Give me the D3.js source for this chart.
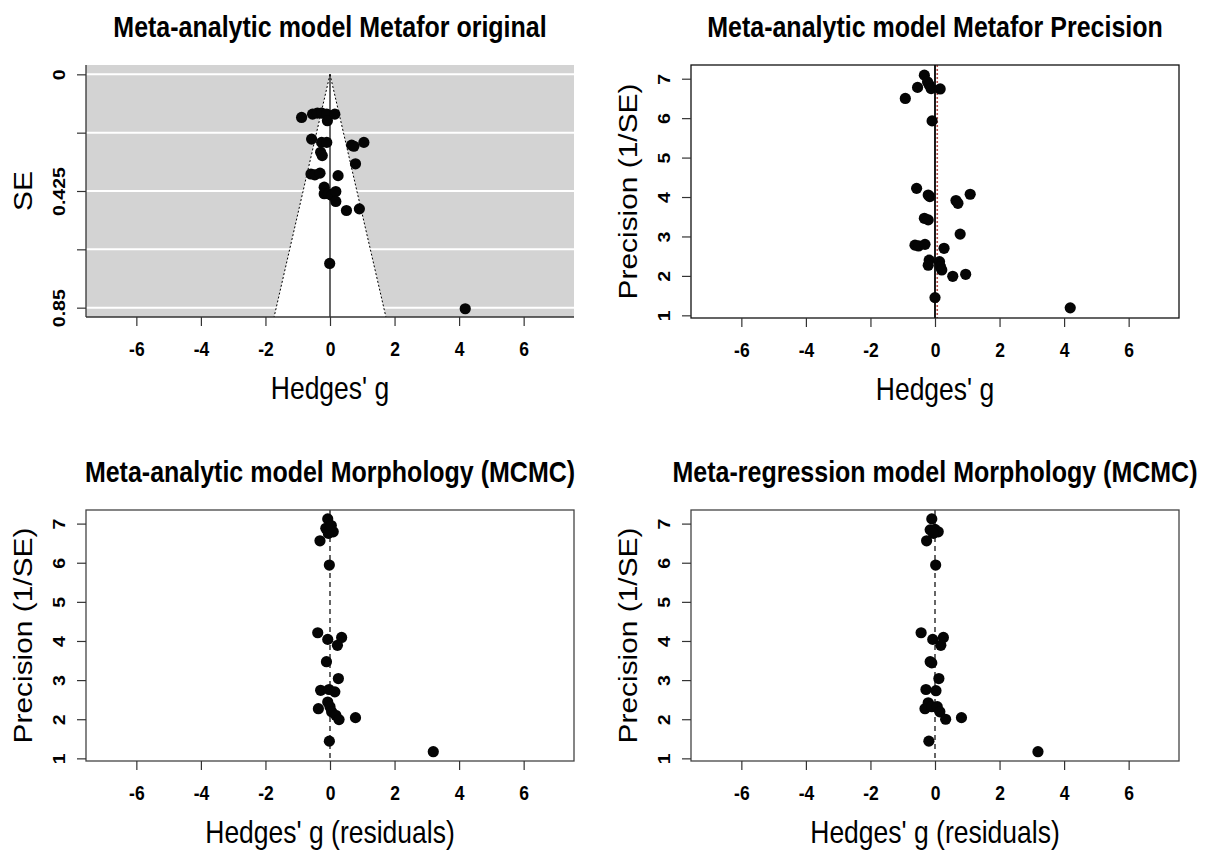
<!DOCTYPE html>
<html>
<head>
<meta charset="utf-8">
<script src="https://cdn.jsdelivr.net/npm/d3@7"></script>
<style>
body { margin: 0; background: #fff; }
svg { display: block; }
text { font-family: "Liberation Sans", Arial, Helvetica, sans-serif; fill: #000; }
</style>
</head>
<body>
<svg id="chart" width="1207" height="852"></svg>
<script>
// ---- values ----
var titles = ["Meta-analytic model Metafor original",
              "Meta-analytic model Metafor Precision",
              "Meta-analytic model Morphology (MCMC)",
              "Meta-regression model Morphology (MCMC)"];
var xLabels = ["Hedges' g", "Hedges' g", "Hedges' g (residuals)", "Hedges' g (residuals)"];
var yLabels = ["SE", "Precision (1/SE)", "Precision (1/SE)", "Precision (1/SE)"];

var xTicks = [-6, -4, -2, 0, 2, 4, 6];
var xLimits = [-7, 7];
var seTicks = [0, 0.2125, 0.425, 0.6375, 0.85];
var seTickLabels = ["0", "", "0.425", "", "0.85"];
var precTicks = [1, 2, 3, 4, 5, 6, 7];
var precLimits = [1.17, 7.11];

// panel 1: funnel (Hedges' g vs SE)
var funnelG  = [-0.88, -0.54, -0.39, -0.26, -0.10, -0.08, 0.15, -0.57, -0.26, -0.10, -0.29, -0.24, 0.67, 0.74, 1.05,
                0.79, -0.59, -0.47, -0.31, 0.25, -0.18, -0.18, -0.05, 0.05, 0.18, 0.18, 0.51, 0.91, -0.01, 4.19];
var funnelSE = [0.157, 0.145, 0.141, 0.141, 0.145, 0.169, 0.145, 0.236, 0.248, 0.248, 0.284, 0.296, 0.258, 0.262, 0.248,
                0.326, 0.363, 0.366, 0.360, 0.369, 0.411, 0.435, 0.435, 0.441, 0.427, 0.463, 0.496, 0.490, 0.689, 0.854];
var funnelEstimate = 0;

// panel 2: precision plot
var precG = [-0.33, -0.23, -0.18, -0.12, -0.54, 0.16, -0.92, -0.09, -0.57, -0.21, -0.16, 0.65, 0.71, 1.09, -0.33,
             -0.21, 0.78, -0.62, -0.51, -0.31, 0.28, -0.18, -0.21, 0.14, 0.17, 0.21, 0.55, 0.95, 0.00, 4.19];
var precP = [7.09, 6.92, 6.84, 6.75, 6.78, 6.74, 6.50, 5.93, 4.22, 4.05, 4.01, 3.91, 3.84, 4.07, 3.46,
             3.42, 3.06, 2.78, 2.76, 2.80, 2.70, 2.40, 2.27, 2.36, 2.23, 2.15, 1.99, 2.04, 1.45, 1.19];
var precZeroLine = 0;
var precEstimate = 0.07;

// panel 3: meta-analytic MCMC residuals
var mcmcG = [-0.07, -0.13, 0.00, 0.10, -0.05, 0.04, -0.31, -0.02, -0.38, -0.07, 0.36, 0.23, -0.11, 0.26, -0.29,
             -0.03, 0.15, -0.07, -0.36, 0.00, 0.05, 0.18, 0.28, 0.79, -0.02, 3.20];
var mcmcP = [7.12, 6.88, 6.84, 6.79, 6.75, 6.95, 6.56, 5.94, 4.21, 4.04, 4.09, 3.89, 3.47, 3.04, 2.74,
             2.76, 2.70, 2.44, 2.27, 2.32, 2.19, 2.10, 1.99, 2.04, 1.44, 1.17];

// panel 4: meta-regression MCMC residuals
var regG = [-0.10, -0.15, 0.00, 0.10, -0.05, -0.26, 0.02, -0.43, -0.07, 0.26, 0.18, -0.15, -0.10, 0.12, -0.28,
            0.03, -0.21, -0.31, -0.10, 0.07, 0.15, 0.33, 0.82, -0.19, 3.19];
var regP = [7.12, 6.84, 6.85, 6.79, 6.75, 6.56, 5.94, 4.21, 4.04, 4.09, 3.89, 3.47, 3.44, 3.04, 2.76,
            2.73, 2.42, 2.27, 2.32, 2.32, 2.19, 2.00, 2.04, 1.44, 1.17];
var residualLine = 0;

// ---- layout ----
var k = 1.15; // the picture is stretched a little in height, text too
var svg = d3.select("#chart");
svg.append("rect").attr("width", 1207).attr("height", 852).attr("fill", "#fff");

var boxes = [
    {left: 86,  right: 574,  top: 65,  bottom: 317},
    {left: 691, right: 1179, top: 65,  bottom: 318},
    {left: 86,  right: 574,  top: 510, bottom: 761},
    {left: 691, right: 1179, top: 510, bottom: 761}
];

// R style 4% range extension
function extend(lim) {
    var d = (lim[1] - lim[0]) * 0.04;
    return [lim[0] - d, lim[1] + d];
}

function hText(g, x, y, str, size, weight) {
    return g.append("text")
        .attr("transform", "translate(" + x + "," + y + ") scale(1," + k + ")")
        .attr("text-anchor", "middle")
        .attr("font-size", size)
        .attr("font-weight", weight)
        .text(str);
}

function vText(g, x, y, str, size, weight) {
    return g.append("text")
        .attr("transform", "translate(" + x + "," + y + ") scale(1," + k + ") rotate(-90)")
        .attr("text-anchor", "middle")
        .attr("font-size", size)
        .attr("font-weight", weight)
        .text(str);
}

// axes, titles and labels shared by all panels
function decorate(g, b, i, x, y, yTicks, yFormat) {
    var cx = (b.left + b.right) / 2;

    var xAxis = g.append("g")
        .attr("transform", "translate(0," + b.bottom + ")")
        .call(d3.axisBottom(x).tickValues(xTicks).tickSize(9).tickSizeOuter(0)
              .tickFormat(function(d) { return String(d); }));
    xAxis.attr("font-size", null).attr("font-family", null);
    xAxis.select(".domain").remove();
    xAxis.selectAll(".tick line").attr("stroke", "#333").attr("stroke-width", 1.2);
    xAxis.selectAll(".tick text")
        .attr("y", null).attr("dy", null)
        .attr("transform", "translate(0,39) scale(1," + k + ")")
        .attr("font-size", 17.5).attr("font-weight", "bold");

    var yAxis = g.append("g")
        .attr("transform", "translate(" + b.left + ",0)")
        .call(d3.axisLeft(y).tickValues(yTicks).tickSize(9).tickSizeOuter(0).tickFormat(yFormat));
    yAxis.attr("font-size", null).attr("font-family", null);
    yAxis.select(".domain").remove();
    yAxis.selectAll(".tick line").attr("stroke", "#333").attr("stroke-width", 1.2);
    yAxis.selectAll(".tick text")
        .attr("x", null).attr("dy", null)
        .attr("text-anchor", "middle")
        .attr("transform", "translate(-21,0) scale(1," + k + ") rotate(-90)")
        .attr("font-size", 17).attr("font-weight", "bold");

    hText(g, cx, b.top - 28, titles[i], 25, "bold");
    hText(g, cx, b.bottom + 82, xLabels[i], 26.5, "normal");
    vText(g, b.left - 54, (b.top + b.bottom) / 2, yLabels[i], 26, "normal");
}

function dots(g, x, y, gs, ys) {
    g.append("g").selectAll("circle")
        .data(gs.map(function(v, j) { return [v, ys[j]]; }))
        .join("circle")
        .attr("cx", function(d) { return x(d[0]); })
        .attr("cy", function(d) { return y(d[1]); })
        .attr("r", 5.6)
        .attr("fill", "#050505");
}

var xDomain = extend(xLimits);

// ---- panel 1: funnel plot ----
(function() {
    var b = boxes[0];
    var g = svg.append("g");
    var x = d3.scaleLinear().domain(xDomain).range([b.left, b.right]);
    var yDom = extend([0, 0.85]);
    var y = d3.scaleLinear().domain(yDom).range([b.top, b.bottom]);
    var yMax = yDom[1];

    g.append("rect")
        .attr("x", b.left).attr("y", b.top)
        .attr("width", b.right - b.left).attr("height", b.bottom - b.top)
        .attr("fill", "#d3d3d3");

    g.selectAll(".grid").data(seTicks).join("line")
        .attr("x1", b.left).attr("x2", b.right)
        .attr("y1", function(d) { return y(d); }).attr("y2", function(d) { return y(d); })
        .attr("stroke", "#fff").attr("stroke-width", 2);

    var apex = [x(funnelEstimate), y(0)];
    var lo = [x(funnelEstimate - 1.96 * yMax), y(yMax)];
    var hi = [x(funnelEstimate + 1.96 * yMax), y(yMax)];
    g.append("polygon")
        .attr("points", [apex, lo, hi].map(function(p) { return p.join(","); }).join(" "))
        .attr("fill", "#fff");
    [lo, hi].forEach(function(p) {
        g.append("line")
            .attr("x1", apex[0]).attr("y1", apex[1]).attr("x2", p[0]).attr("y2", p[1])
            .attr("stroke", "#000").attr("stroke-width", 1).attr("stroke-dasharray", "2,2");
    });
    g.append("line")
        .attr("x1", apex[0]).attr("x2", apex[0]).attr("y1", y(0)).attr("y2", y(yMax))
        .attr("stroke", "#000").attr("stroke-width", 1.2);

    // left and bottom axis lines only
    g.append("line").attr("x1", b.left).attr("x2", b.left).attr("y1", b.top).attr("y2", b.bottom)
        .attr("stroke", "#333").attr("stroke-width", 1.3);
    g.append("line").attr("x1", b.left).attr("x2", b.right).attr("y1", b.bottom).attr("y2", b.bottom)
        .attr("stroke", "#333").attr("stroke-width", 1.3);

    decorate(g, b, 0, x, y, seTicks, function(d, j) { return seTickLabels[j]; });
    dots(g, x, y, funnelG, funnelSE);
})();

// ---- panels 2-4: precision plots ----
function precisionPanel(i, gs, ps, drawLines, boxColor) {
    var b = boxes[i];
    var g = svg.append("g");
    var x = d3.scaleLinear().domain(xDomain).range([b.left, b.right]);
    var y = d3.scaleLinear().domain(extend(precLimits)).range([b.bottom, b.top]);

    drawLines(g, x, b);
    dots(g, x, y, gs, ps);

    g.append("rect")
        .attr("x", b.left).attr("y", b.top)
        .attr("width", b.right - b.left).attr("height", b.bottom - b.top)
        .attr("fill", "none").attr("stroke", boxColor).attr("stroke-width", 1.3);

    decorate(g, b, i, x, y, precTicks, function(d) { return String(d); });
}

precisionPanel(1, precG, precP, function(g, x, b) {
    g.append("line")
        .attr("x1", x(precEstimate)).attr("x2", x(precEstimate)).attr("y1", b.top).attr("y2", b.bottom)
        .attr("stroke", "#b4504a").attr("stroke-width", 1.6).attr("stroke-dasharray", "2,2");
    g.append("line")
        .attr("x1", x(precZeroLine)).attr("x2", x(precZeroLine)).attr("y1", b.top).attr("y2", b.bottom)
        .attr("stroke", "#000").attr("stroke-width", 1.8);
}, "#111");

function dashedZero(g, x, b) {
    g.append("line")
        .attr("x1", x(residualLine)).attr("x2", x(residualLine)).attr("y1", b.top).attr("y2", b.bottom)
        .attr("stroke", "#000").attr("stroke-width", 1.2).attr("stroke-dasharray", "5,4");
}

precisionPanel(2, mcmcG, mcmcP, dashedZero, "#444");
precisionPanel(3, regG, regP, dashedZero, "#444");
</script>
</body>
</html>
